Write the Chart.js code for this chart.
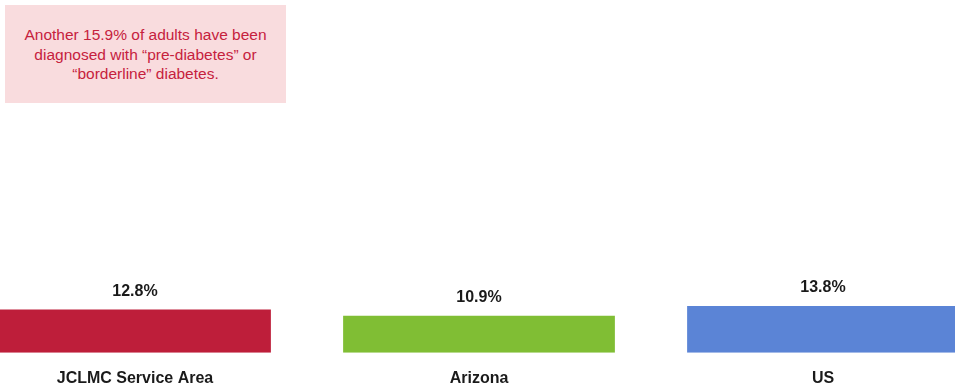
<!DOCTYPE html>
<html lang="en">
<head>
<meta charset="UTF-8">
<title>Diabetes prevalence</title>
<script src="https://cdn.jsdelivr.net/npm/chart.js@4.4.0/dist/chart.umd.min.js"></script>
<style>
    html, body {
        margin: 0;
        padding: 0;
        background: #fff;
        overflow: hidden;
        width: 955px;
        height: 389px;
    }
    .chart-wrap {
        position: absolute;
        left: -37px;
        top: 0;
        width: 1032px;
        height: 406px;
    }
    .note {
        position: absolute;
        left: 5px;
        top: 5px;
        width: 281px;
        height: 98px;
        box-sizing: border-box;
        padding-top: 20px;
        background: #f9dcde;
        color: #c6213d;
        font-family: "Liberation Sans", Arial, sans-serif;
        font-size: 15.5px;
        line-height: 19.5px;
        text-align: center;
    }
</style>
</head>
<body>
    <div class="chart-wrap"><canvas id="diabetesChart"></canvas></div>
    <div class="note">Another 15.9% of adults have been<br>diagnosed with “pre-diabetes” or<br>“borderline” diabetes.</div>

<script>
    // Adults ever diagnosed with diabetes (%)
    const areas = ["JCLMC Service Area", "Arizona", "US"];
    const diabetesPct = [12.8, 10.9, 13.8];
    const barColors = ["#be1e3a", "#80be34", "#5b84d6"];

    // value labels drawn above each bar
    const valueLabels = {
        id: "valueLabels",
        afterDatasetsDraw(chart) {
            const ctx = chart.ctx;
            const meta = chart.getDatasetMeta(0);
            ctx.save();
            ctx.font = "bold 16px 'Liberation Sans', Arial, sans-serif";
            ctx.fillStyle = "#1a1a1a";
            ctx.textAlign = "center";
            ctx.textBaseline = "middle";
            meta.data.forEach((bar, i) => {
                ctx.fillText(diabetesPct[i].toFixed(1) + "%", bar.x, bar.y - 18);
            });
            ctx.restore();
        }
    };

    new Chart(document.getElementById("diabetesChart"), {
        type: "bar",
        data: {
            labels: areas,
            datasets: [{
                data: diabetesPct,
                backgroundColor: barColors,
                borderWidth: 0,
                barPercentage: 0.79,
                categoryPercentage: 1.0
            }]
        },
        options: {
            responsive: true,
            maintainAspectRatio: false,
            animation: false,
            layout: { padding: { top: 14, bottom: 2, left: 0, right: 0 } },
            plugins: {
                legend: { display: false },
                tooltip: { enabled: false }
            },
            scales: {
                x: {
                    grid: { display: false, drawTicks: false },
                    border: { display: false },
                    ticks: {
                        padding: 16,
                        color: "#1a1a1a",
                        font: { family: "'Liberation Sans', Arial, sans-serif", size: 16, weight: "bold" }
                    }
                },
                y: {
                    display: false,
                    min: 0,
                    max: 100
                }
            }
        },
        plugins: [valueLabels]
    });
</script>
</body>
</html>
